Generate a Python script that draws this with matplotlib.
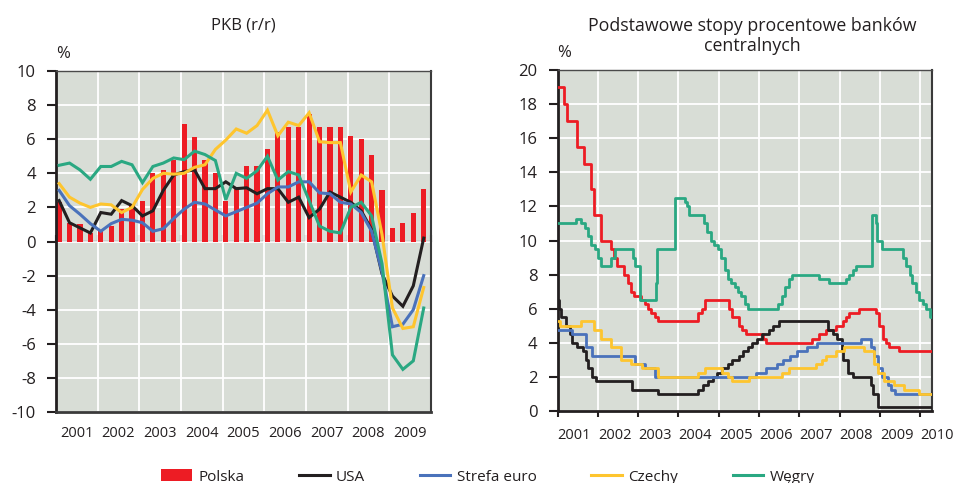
import pandas as pd
import matplotlib
matplotlib.use("Agg")
import matplotlib.pyplot as plt
import matplotlib.transforms as mtransforms
from matplotlib.patches import Patch
from matplotlib.lines import Line2D

plt.rcParams['font.family'] = ['Open Sans', 'DejaVu Sans']
plt.rcParams['axes.unicode_minus'] = False

# ==============================
# DATA - PKB (r/r), quarterly 2001Q1 - 2009Q4
# ==============================

years_left = ['2001', '2002', '2003', '2004', '2005', '2006', '2007', '2008', '2009']

polska = [2.3, 1.1, 1.0, 0.5, 0.6, 0.9, 1.9, 2.2, 2.4, 4.0, 4.2, 4.8,
          6.9, 6.1, 4.8, 4.0, 2.4, 3.2, 4.4, 4.4, 5.4, 6.4, 6.7, 6.7,
          7.5, 6.7, 6.7, 6.7, 6.2, 6.0, 5.1, 3.0, 0.8, 1.1, 1.7, 3.1]

usa = [2.4, 1.1, 0.8, 0.5, 1.7, 1.6, 2.4, 2.1, 1.5, 1.8, 3.0, 3.9,
       4.1, 4.2, 3.1, 3.1, 3.5, 3.1, 3.15, 2.8, 3.1, 3.1, 2.3, 2.6,
       1.4, 1.9, 2.9, 2.6, 2.3, 1.8, 0.7, -1.9, -3.2, -3.8, -2.6, 0.2]

strefa_euro = [3.0, 2.1, 1.6, 1.05, 0.6, 1.05, 1.3, 1.25, 1.1, 0.6, 0.75, 1.35,
               1.9, 2.3, 2.2, 1.85, 1.5, 1.75, 2.0, 2.25, 2.8, 3.2, 3.2, 3.5,
               3.5, 2.85, 2.8, 2.3, 2.2, 1.7, 0.6, -1.8, -5.0, -4.85, -4.0, -2.0]

czechy = [3.4, 2.6, 2.25, 2.0, 2.2, 2.15, 1.7, 2.0, 3.05, 3.7, 4.0, 3.95,
          4.0, 4.35, 4.5, 5.4, 5.95, 6.6, 6.35, 6.8, 7.7, 6.2, 7.0, 6.8,
          7.55, 5.85, 5.8, 5.8, 2.9, 3.9, 3.5, 0.4, -3.9, -5.1, -5.0, -2.7]

wegry = [4.47, 4.6, 4.2, 3.65, 4.4, 4.4, 4.7, 4.5, 3.45, 4.4, 4.6, 4.9,
         4.8, 5.3, 5.1, 4.75, 2.45, 4.0, 3.7, 4.15, 5.0, 3.6, 4.1, 3.9,
         2.4, 0.9, 0.6, 0.5, 2.0, 2.3, 1.5, -1.3, -6.65, -7.5, -7.0, -3.9]

# ==============================
# DATA - stopy procentowe (change dates and rates)
# ==============================

years_right = ['2001', '2002', '2003', '2004', '2005', '2006', '2007', '2008', '2009', '2010']
end_date = '2010-04-20'

pl_dates = ['2001-01-01', '2001-02-28', '2001-03-29', '2001-06-28', '2001-08-23',
            '2001-10-26', '2001-11-29', '2002-01-31', '2002-04-26', '2002-05-30',
            '2002-06-27', '2002-08-29', '2002-09-26', '2002-10-24', '2002-11-28',
            '2003-01-30', '2003-02-27', '2003-03-27', '2003-04-25', '2003-05-29',
            '2003-06-26', '2004-06-29', '2004-07-29', '2004-08-26', '2005-03-31',
            '2005-04-28', '2005-06-30', '2005-07-28', '2005-09-01', '2006-02-01',
            '2006-03-01', '2007-04-26', '2007-06-28', '2007-08-30', '2007-11-29',
            '2008-01-31', '2008-02-28', '2008-03-27', '2008-06-26', '2008-11-27',
            '2008-12-24', '2009-01-29', '2009-02-26', '2009-03-26', '2009-06-25']
pl_rates = [19.0, 18.0, 17.0, 15.5, 14.5, 13.0, 11.5, 10.0, 9.5, 9.0,
            8.5, 8.0, 7.5, 7.0, 6.75, 6.5, 6.25, 6.0, 5.75, 5.5,
            5.25, 5.75, 6.0, 6.5, 6.0, 5.5, 5.0, 4.75, 4.5, 4.25,
            4.0, 4.25, 4.5, 4.75, 5.0, 5.25, 5.5, 5.75, 6.0, 5.75,
            5.0, 4.25, 4.0, 3.75, 3.5]

us_dates = ['2001-01-01', '2001-01-12', '2001-01-31', '2001-03-20', '2001-04-18',
            '2001-05-15', '2001-06-27', '2001-08-21', '2001-09-17', '2001-10-02',
            '2001-11-06', '2001-12-11', '2002-11-06', '2003-06-25', '2004-06-30',
            '2004-08-10', '2004-09-21', '2004-11-10', '2004-12-14', '2005-02-02',
            '2005-03-22', '2005-05-03', '2005-06-30', '2005-08-09', '2005-09-20',
            '2005-11-01', '2005-12-13', '2006-01-31', '2006-03-28', '2006-05-10',
            '2006-06-29', '2007-09-18', '2007-10-31', '2007-12-11', '2008-01-22',
            '2008-01-30', '2008-03-18', '2008-04-30', '2008-10-08', '2008-10-29',
            '2008-12-16']
us_rates = [6.5, 6.0, 5.5, 5.0, 4.5, 4.0, 3.75, 3.5, 3.0, 2.5,
            2.0, 1.75, 1.25, 1.0, 1.25, 1.5, 1.75, 2.0, 2.25, 2.5,
            2.75, 3.0, 3.25, 3.5, 3.75, 4.0, 4.25, 4.5, 4.75, 5.0,
            5.25, 4.75, 4.5, 4.25, 3.5, 3.0, 2.25, 2.0, 1.5, 1.0,
            0.25]

ez_dates = ['2001-01-01', '2001-05-11', '2001-09-18', '2001-11-09', '2002-12-06',
            '2003-03-07', '2003-06-06', '2005-12-06', '2006-03-08', '2006-06-15',
            '2006-08-09', '2006-10-11', '2006-12-13', '2007-03-14', '2007-06-13',
            '2008-07-09', '2008-10-15', '2008-11-12', '2008-12-10', '2009-01-21',
            '2009-03-11', '2009-04-08', '2009-05-13']
ez_rates = [4.75, 4.5, 3.75, 3.25, 2.75, 2.5, 2.0, 2.25, 2.5, 2.75,
            3.0, 3.25, 3.5, 3.75, 4.0, 4.25, 3.75, 3.25, 2.5, 2.0,
            1.5, 1.25, 1.0]

cz_dates = ['2001-01-01', '2001-01-26', '2001-07-27', '2001-11-30', '2002-01-31',
            '2002-04-26', '2002-07-26', '2002-11-01', '2003-01-31', '2003-06-27',
            '2004-06-25', '2004-08-26', '2005-01-28', '2005-03-25', '2005-04-29',
            '2005-09-30', '2006-07-28', '2006-09-29', '2007-06-01', '2007-07-27',
            '2007-08-31', '2007-11-30', '2008-02-08', '2008-08-08', '2008-11-07',
            '2008-12-18', '2009-02-06', '2009-05-11', '2009-08-07', '2009-12-17']
cz_rates = [5.25, 5.0, 5.25, 4.75, 4.25, 3.75, 3.0, 2.75, 2.5, 2.0,
            2.25, 2.5, 2.25, 2.0, 1.75, 2.0, 2.25, 2.5, 2.75, 3.0,
            3.25, 3.5, 3.75, 3.5, 2.75, 2.25, 1.75, 1.5, 1.25, 1.0]

hu_dates = ['2001-01-01', '2001-06-12', '2001-08-01', '2001-09-01', '2001-10-01',
            '2001-11-01', '2001-12-01', '2002-01-01', '2002-02-01', '2002-05-01',
            '2002-06-01', '2002-11-15', '2002-12-01', '2003-01-16', '2003-06-10',
            '2003-06-19', '2003-11-28', '2004-03-01', '2004-03-22', '2004-04-05',
            '2004-08-16', '2004-09-20', '2004-10-18', '2004-11-22', '2004-12-20',
            '2005-01-24', '2005-02-28', '2005-03-21', '2005-04-25', '2005-05-23',
            '2005-06-20', '2005-07-18', '2005-08-22', '2005-09-19', '2006-06-19',
            '2006-07-24', '2006-08-28', '2006-09-25', '2006-10-23', '2007-06-25',
            '2007-09-24', '2008-02-25', '2008-03-25', '2008-04-28', '2008-05-26',
            '2008-10-22', '2008-11-24', '2008-12-08', '2009-01-19', '2009-07-27',
            '2009-08-24', '2009-09-28', '2009-10-19', '2009-11-23', '2009-12-21',
            '2010-01-25', '2010-02-22', '2010-03-29']
hu_rates = [11.0, 11.25, 11.0, 10.75, 10.25, 9.75, 9.5, 9.0, 8.5, 9.0,
            9.5, 9.0, 8.5, 6.5, 7.5, 9.5, 12.5, 12.25, 12.0, 11.5,
            11.0, 10.5, 10.0, 9.75, 9.5, 9.0, 8.25, 7.75, 7.5, 7.25,
            7.0, 6.75, 6.25, 6.0, 6.25, 6.75, 7.25, 7.75, 8.0, 7.75,
            7.5, 7.75, 8.0, 8.25, 8.5, 11.5, 11.0, 10.0, 9.5, 9.0,
            8.5, 8.0, 7.5, 7.0, 6.5, 6.25, 6.0, 5.5]

# ==============================
# STYLE
# ==============================

bg = '#d8ddd6'
c_red = '#ed1c24'
c_black = '#231f20'
c_blue = '#4a72bb'
c_yellow = '#fec52e'
c_green = '#2aa882'
c_text = '#231f20'

fig = plt.figure(figsize=(9.57, 4.83), dpi=100)

W, H = 957.0, 483.0
ax1 = fig.add_axes([56 / W, 1 - 412 / H, 375 / W, 341 / H])
ax2 = fig.add_axes([557.7 / W, 1 - 411 / H, 374.6 / W, 341 / H])

# ==============================
# LEFT CHART - PKB
# ==============================

x = [i + 0.3 for i in range(len(polska))]

ax1.set_facecolor(bg)
ax1.set_axisbelow(True)
ax1.bar(x, polska, width=0.5, color=c_red, zorder=2)
ax1.plot(x, usa, color=c_black, lw=2.2, zorder=3, solid_joinstyle='miter')
ax1.plot(x, strefa_euro, color=c_blue, lw=2.2, zorder=3, solid_joinstyle='miter')
ax1.plot(x, czechy, color=c_yellow, lw=2.2, zorder=3, solid_joinstyle='miter')
ax1.plot(x, wegry, color=c_green, lw=2.2, zorder=3, solid_joinstyle='miter')

ax1.set_xlim(0, 36)
ax1.set_ylim(-10, 10)
ax1.set_yticks(range(-10, 11, 2))
ax1.set_xticks(range(0, 37, 4))
ax1.set_xticklabels([])
ax1.set_xticks([2 + 4 * k for k in range(9)], minor=True)
ax1.set_xticklabels(years_left, minor=True)
ax1.tick_params(axis='x', which='major', length=0)
ax1.tick_params(axis='x', which='minor', length=0, pad=10, labelsize=10.5,
                labelcolor=c_text)
ax1.tick_params(axis='y', direction='out', length=6.5, width=1.5, pad=8,
                labelsize=12, labelcolor=c_text, color=c_black)
ax1.grid(True, which='major', color='white', lw=1.3)

ax1.spines['left'].set_linewidth(2)
ax1.spines['left'].set_color(c_black)
ax1.spines['bottom'].set_linewidth(2)
ax1.spines['bottom'].set_color('#3a3a3a')
ax1.spines['top'].set_linewidth(1)
ax1.spines['top'].set_color('#4a4a4a')
ax1.spines['right'].set_linewidth(1.5)
ax1.spines['right'].set_color('#3a3a3a')

# zero line with year ticks
zero_ax = ax1.secondary_xaxis(0.5)
zero_ax.set_xticks(range(0, 37, 4))
zero_ax.set_xticklabels([])
zero_ax.tick_params(direction='out', length=4, width=1.5, color=c_black)
zero_ax.spines['bottom'].set_linewidth(2)
zero_ax.spines['bottom'].set_color(c_black)

fig.text(243 / W, 1 - 25 / H, 'PKB (r/r)', ha='center', va='center',
         fontsize=12, color=c_text)
fig.text(63 / W, 1 - 54 / H, '%', ha='center', va='center',
         fontsize=12, color=c_text)

# ==============================
# RIGHT CHART - STOPY PROCENTOWE
# ==============================

def step_series(dates, rates):
    d = pd.to_datetime(list(dates) + [end_date])
    r = list(rates) + [rates[-1]]
    return d, r

ax2.set_facecolor(bg)
ax2.set_axisbelow(True)

for dates, rates, col in [(pl_dates, pl_rates, c_red),
                          (us_dates, us_rates, c_black),
                          (ez_dates, ez_rates, c_blue),
                          (cz_dates, cz_rates, c_yellow),
                          (hu_dates, hu_rates, c_green)]:
    d, r = step_series(dates, rates)
    ax2.step(d, r, where='post', color=col, lw=2.0, zorder=3)

ax2.set_xlim(pd.Timestamp('2001-01-01'), pd.Timestamp(end_date))
ax2.set_ylim(0, 20)
ax2.set_yticks(range(0, 21, 2))
ax2.set_xticks(pd.to_datetime([y + '-01-01' for y in years_right]))
ax2.set_xticklabels(years_right)
offset = mtransforms.ScaledTranslation(-3 / 100, 0, fig.dpi_scale_trans)
for lab in ax2.get_xticklabels():
    lab.set_horizontalalignment('left')
    lab.set_transform(lab.get_transform() + offset)
ax2.tick_params(axis='x', direction='out', length=4, width=1.5, pad=8,
                labelsize=10.5, labelcolor=c_text, color=c_black)
ax2.tick_params(axis='y', direction='out', length=6.5, width=1.5, pad=8,
                labelsize=12, labelcolor=c_text, color=c_black)
ax2.grid(True, color='white', lw=1.3)

ax2.spines['left'].set_linewidth(2)
ax2.spines['left'].set_color(c_black)
ax2.spines['bottom'].set_linewidth(2)
ax2.spines['bottom'].set_color(c_black)
ax2.spines['top'].set_linewidth(1)
ax2.spines['top'].set_color('#4a4a4a')
ax2.spines['right'].set_linewidth(1.5)
ax2.spines['right'].set_color('#3a3a3a')

fig.text(752 / W, 1 - 36 / H, 'Podstawowe stopy procentowe banków\ncentralnych',
         ha='center', va='center', fontsize=12.8, color=c_text, linespacing=1.2)
fig.text(564 / W, 1 - 53 / H, '%', ha='center', va='center',
         fontsize=12, color=c_text)

# ==============================
# LEGEND
# ==============================

handles = [Patch(facecolor=c_red, edgecolor='none'),
           Line2D([], [], color=c_black, lw=2.2),
           Line2D([], [], color=c_blue, lw=2.2),
           Line2D([], [], color=c_yellow, lw=2.2),
           Line2D([], [], color=c_green, lw=2.2)]
labels = ['Polska', 'USA', 'Strefa euro', 'Czechy', 'Węgry']

fig.legend(handles, labels, loc='center', bbox_to_anchor=(488 / W, 1 - 477 / H),
           ncol=5, frameon=False, fontsize=11, handlelength=2.0,
           handleheight=0.8, handletextpad=0.4, columnspacing=3.6,
           labelcolor=c_text)

fig.savefig('out.png', dpi=100)
